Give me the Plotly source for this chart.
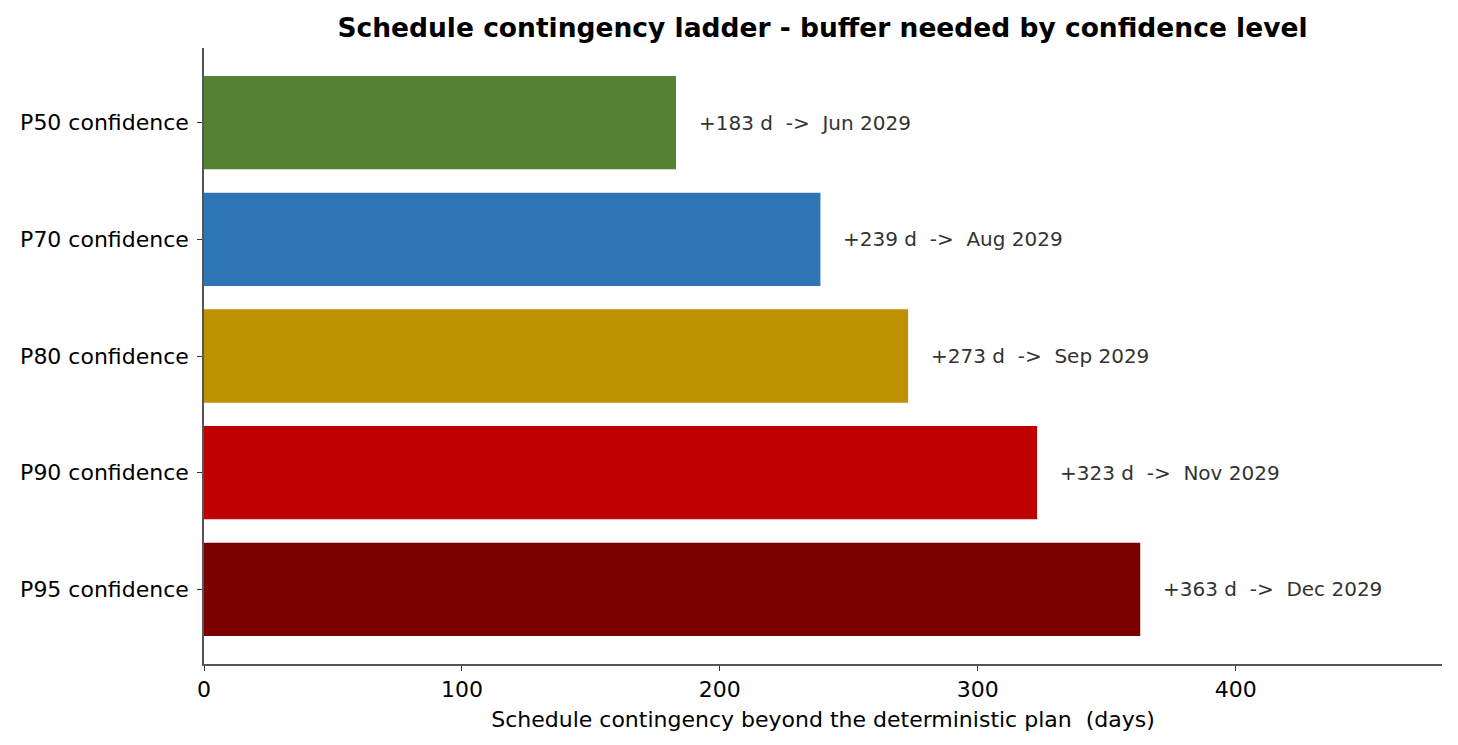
import plotly.graph_objects as go

levels = ["P50 confidence", "P70 confidence", "P80 confidence", "P90 confidence", "P95 confidence"]
days = [183, 239, 273, 323, 363]
finish = ["Jun 2029", "Aug 2029", "Sep 2029", "Nov 2029", "Dec 2029"]
colors = ["#548235", "#2E75B6", "#BF9000", "#C00000", "#7B0000"]

fig = go.Figure(go.Bar(
    x=days, y=levels, orientation="h", width=0.8,
    marker=dict(color=colors, line=dict(width=0)),
    hoverinfo="skip",
))

for lvl, d, f in zip(levels, days, finish):
    fig.add_annotation(
        x=d + 8, y=lvl, xanchor="left", yanchor="middle", showarrow=False,
        text=f"+{d} d\u00a0\u00a0->\u00a0\u00a0{f}",
        font=dict(size=20, color="#333333"),
    )

fig.update_layout(
    width=1458, height=745,
    template="plotly_white",
    plot_bgcolor="white", paper_bgcolor="white",
    font=dict(family="DejaVu Sans", size=22, color="black"),
    margin=dict(l=194, r=24, t=40, b=89),
    title=dict(
        text="<b>Schedule contingency ladder - buffer needed by confidence level</b>",
        x=0.5586, xanchor="center", y=0.973, yanchor="middle",
        font=dict(size=26.5, color="black"),
    ),
    showlegend=False,
)
fig.update_xaxes(
    range=[0, 480], tickvals=[0, 100, 200, 300, 400], showgrid=False, zeroline=False,
    showline=True, linecolor="#555555", linewidth=1.6,
    ticks="outside", ticklen=5, tickcolor="#333333", tickwidth=1.3,
    title=dict(text="Schedule contingency beyond the deterministic plan\u00a0\u00a0(days)", standoff=10,
               font=dict(size=22)),
    tickfont=dict(size=22),
)
fig.update_yaxes(
    range=[4.64, -0.64], showgrid=False, zeroline=False,
    showline=True, linecolor="#555555", linewidth=1.6,
    ticks="outside", ticklen=5, tickcolor="#333333", tickwidth=1.3,
    ticklabelstandoff=4,
    tickfont=dict(size=22),
)

fig.write_html("out.html")
